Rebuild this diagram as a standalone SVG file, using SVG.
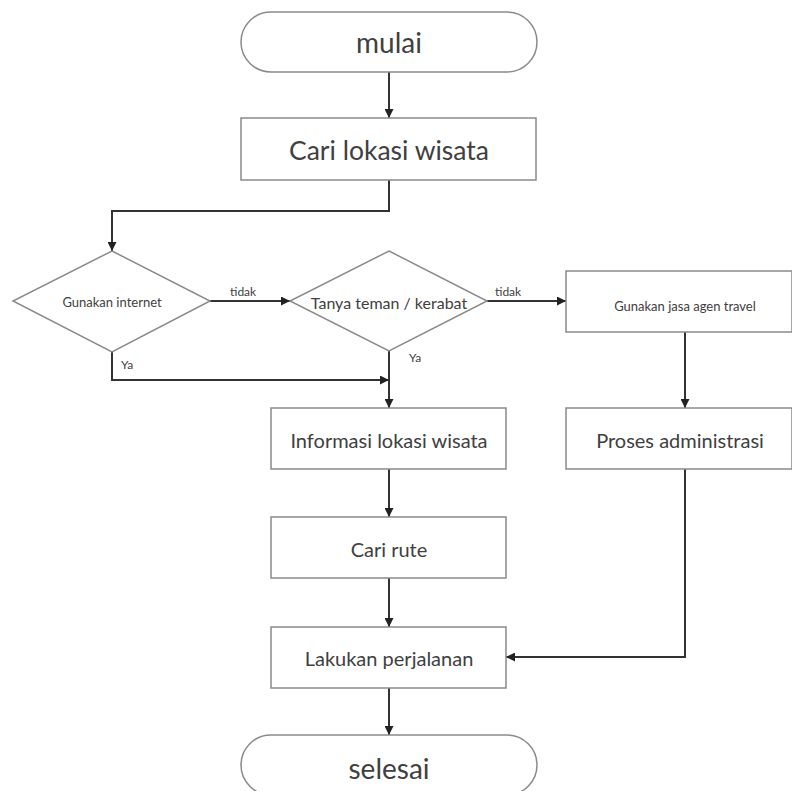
<svg xmlns="http://www.w3.org/2000/svg" width="792" height="791" viewBox="0 0 792 791">
  <defs>
    <marker id="arrow" viewBox="0 0 10 10" refX="10" refY="5" markerWidth="9" markerHeight="9" markerUnits="userSpaceOnUse" orient="auto">
      <path d="M0,0 L10,5 L0,10 z" fill="#222"/>
    </marker>
  </defs>
  <style>
    .shape { fill: #ffffff; stroke: #8a8a8a; stroke-width: 1.5; }
    .line { fill: none; stroke: #333333; stroke-width: 2; }
    .txt { font-family: Lato, "Open Sans", sans-serif; fill: #404040; text-anchor: middle; dominant-baseline: central; }
    .lbl { font-family: Lato, "Open Sans", sans-serif; fill: #404040; font-size: 12px; }
  </style>
  <rect width="792" height="791" fill="#ffffff"/>

  <g id="connectors">
    <path class="line" d="M389,72 L389,118" marker-end="url(#arrow)"/>
    <path class="line" d="M389,180 L389,211 L112,211 L112,251" marker-end="url(#arrow)"/>
    <path class="line" d="M210,301 L290,301" marker-end="url(#arrow)"/>
    <path class="line" d="M487,301 L566,301" marker-end="url(#arrow)"/>
    <path class="line" d="M112,352 L112,380 L389,380" marker-end="url(#arrow)"/>
    <path class="line" d="M389,351 L389,408" marker-end="url(#arrow)"/>
    <path class="line" d="M685,332 L685,408" marker-end="url(#arrow)"/>
    <path class="line" d="M389,469 L389,517" marker-end="url(#arrow)"/>
    <path class="line" d="M389,578 L389,627" marker-end="url(#arrow)"/>
    <path class="line" d="M685,469 L685,657 L506,657" marker-end="url(#arrow)"/>
    <path class="line" d="M389,688 L389,735" marker-end="url(#arrow)"/>
    <text class="lbl" x="230" y="296">tidak</text>
    <text class="lbl" x="495" y="296">tidak</text>
    <text class="lbl" x="121" y="369">Ya</text>
    <text class="lbl" x="409" y="362">Ya</text>
  </g>

  <g id="start">
    <rect class="shape" x="241" y="12" width="296" height="60" rx="30" ry="30"/>
    <text class="txt" x="389" y="42" font-size="28">mulai</text>
  </g>

  <g id="cari-lokasi">
    <rect class="shape" x="241" y="118" width="295" height="62"/>
    <text class="txt" x="389" y="150" font-size="26.5">Cari lokasi wisata</text>
  </g>

  <g id="gunakan-internet">
    <polygon class="shape" points="112,251 210,301 112,352 13,301"/>
    <text class="txt" x="112" y="302" font-size="13">Gunakan internet</text>
  </g>

  <g id="tanya-teman">
    <polygon class="shape" points="389,251 487,301 389,351 290,301"/>
    <text class="txt" x="389" y="302" font-size="16">Tanya teman / kerabat</text>
  </g>

  <g id="agen-travel">
    <rect class="shape" x="566" y="271" width="226" height="61"/>
    <text class="txt" x="685" y="306" font-size="13">Gunakan jasa agen travel</text>
  </g>

  <g id="proses-administrasi">
    <rect class="shape" x="566" y="408" width="226" height="61"/>
    <text class="txt" x="680" y="440" font-size="20">Proses administrasi</text>
  </g>

  <g id="informasi-lokasi">
    <rect class="shape" x="271" y="408" width="235" height="61"/>
    <text class="txt" x="389" y="440" font-size="20">Informasi lokasi wisata</text>
  </g>

  <g id="cari-rute">
    <rect class="shape" x="271" y="517" width="235" height="61"/>
    <text class="txt" x="389" y="549" font-size="20">Cari rute</text>
  </g>

  <g id="lakukan-perjalanan">
    <rect class="shape" x="271" y="627" width="235" height="61"/>
    <text class="txt" x="389" y="658" font-size="20">Lakukan perjalanan</text>
  </g>

  <g id="finish">
    <rect class="shape" x="241" y="735" width="296" height="60" rx="30" ry="30"/>
    <text class="txt" x="389" y="768" font-size="28">selesai</text>
  </g>
</svg>
